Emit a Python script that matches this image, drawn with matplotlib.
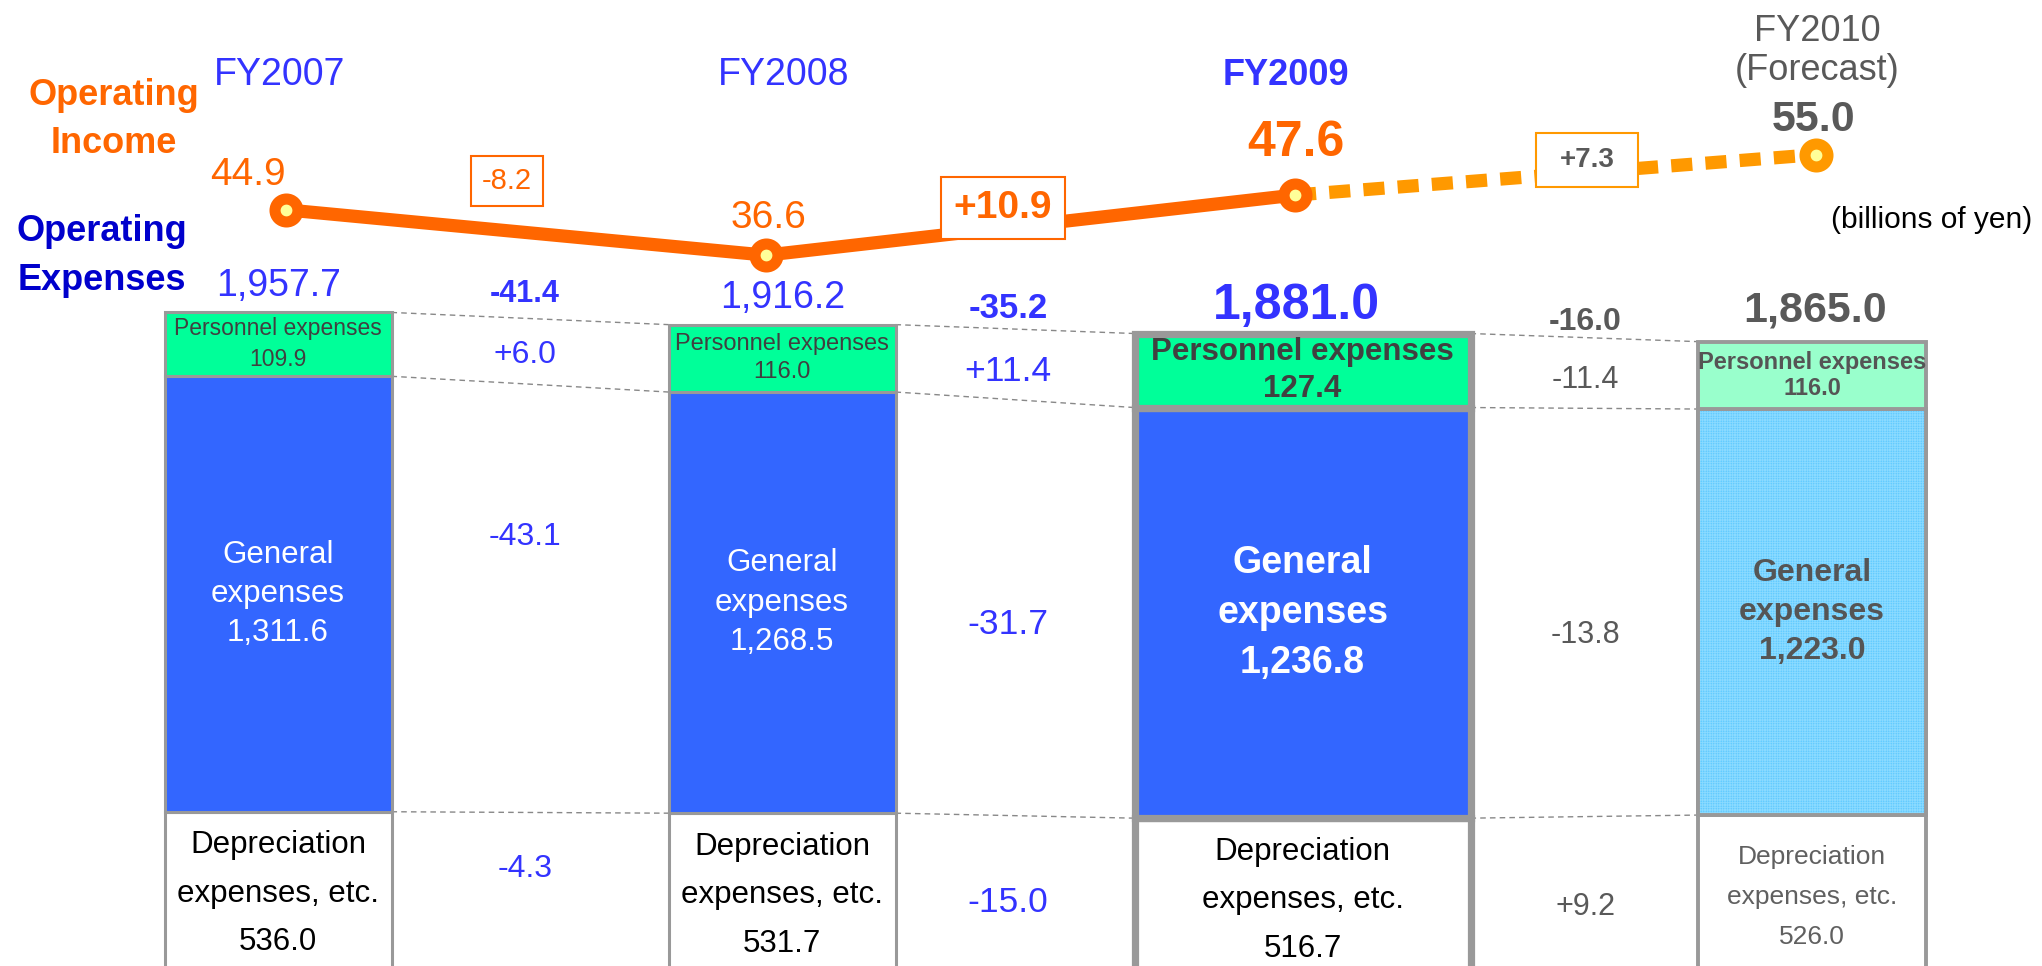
import matplotlib.pyplot as plt

plt.rcParams['font.family'] = ['Liberation Sans', 'DejaVu Sans']
plt.rcParams['hatch.linewidth'] = 0.5

# ---- data (billions of yen) ----
periods = ['FY2007', 'FY2008', 'FY2009', 'FY2010\n(Forecast)']
op_income = [44.9, 36.6, 47.6, 55.0]
income_diff = ['-8.2', '+10.9', '+7.3']
op_expenses = [1957.7, 1916.2, 1881.0, 1865.0]
personnel = [109.9, 116.0, 127.4, 116.0]
general = [1311.6, 1268.5, 1236.8, 1223.0]
depreciation = [536.0, 531.7, 516.7, 526.0]
total_diff = ['-41.4', '-35.2', '-16.0']
personnel_diff = ['+6.0', '+11.4', '-11.4']
general_diff = ['-43.1', '-31.7', '-13.8']
depr_diff = ['-4.3', '-15.0', '+9.2']

ORANGE = '#FF6600'
LORANGE = '#FF9900'
BLUE = '#3333FF'
DBLUE = '#0000CC'
GRAY = '#595959'
EDGE = '#999999'

W, H = 2042, 966
fig = plt.figure(figsize=(W / 100, H / 100), dpi=100)
ax = fig.add_axes([0, 0, 1, 1])
ax.set_xlim(0, W)
S = 0.332      # px per billion yen for the expense bars
Y0 = 989.7     # pixel row of the zero line (below the picture)
ax.set_ylim((Y0 - H) / S, Y0 / S)
ax.axis('off')
K_PERS = 1.75  # personnel segments drawn enlarged so the labels fit

ax2 = ax.twinx()
IS = 5.466     # px per billion yen for operating income
ax2.set_ylim(46.0 - (H - 203.8) / IS, 46.0 + 203.8 / IS)
ax2.axis('off')


def label(x, y, s, **kw):
    fig.text(x / W, 1 - y / H, s, **kw)


# ---- bars ----
bar_x = [278, 782, 1302.5, 1812]
bar_w = [227, 227, 336, 228]
edge_lw = [2.2, 2.2, 5.2, 2.8]
pers_col = ['#00FF99', '#00FF99', '#00FF99', '#99FFCC']
gen_col = ['#3366FF', '#3366FF', '#3366FF', '#4FC3FF']

levels = []
for i in range(4):
    d = depreciation[i]
    g = general[i]
    p = personnel[i] * K_PERS
    kw = dict(width=bar_w[i], edgecolor=EDGE, linewidth=edge_lw[i], zorder=2)
    ax.bar(bar_x[i], d, bottom=0, color='white', **kw)
    ax.bar(bar_x[i], g, bottom=d, color=gen_col[i], **kw)
    if i == 3:
        # dotted forecast texture
        ax.bar(bar_x[i], g, bottom=d, width=bar_w[i], color='none',
               edgecolor='#8ADAFF', linewidth=0, hatch='+' * 10, zorder=2)
        ax.bar(bar_x[i], g, bottom=d, width=bar_w[i], color='none',
               edgecolor=EDGE, linewidth=edge_lw[i], zorder=2)
    ax.bar(bar_x[i], p, bottom=d + g, color=pers_col[i], **kw)
    levels.append((d, d + g, d + g + p))

# dashed connectors between bars
for i in range(3):
    x1 = bar_x[i] + bar_w[i] / 2
    x2 = bar_x[i + 1] - bar_w[i + 1] / 2
    for j in range(3):
        ax.plot([x1, x2], [levels[i][j], levels[i + 1][j]], color='#888888',
                lw=1.0, dashes=(4, 3), zorder=1)

# labels inside bars
pers_style = [dict(fontsize=16.5, fontweight='normal', color='#404040', linespacing=1.45),
              dict(fontsize=17, fontweight='normal', color='#404040', linespacing=1.36),
              dict(fontsize=22.5, fontweight='bold', color='#404040', linespacing=1.27),
              dict(fontsize=17, fontweight='bold', color='#555555', linespacing=1.19)]
gen_style = [dict(fontsize=22.5, fontweight='normal', color='white', linespacing=1.4),
             dict(fontsize=22.5, fontweight='normal', color='white', linespacing=1.4),
             dict(fontsize=27, fontweight='bold', color='white', linespacing=1.49),
             dict(fontsize=23, fontweight='bold', color='#555555', linespacing=1.41)]
dep_style = [dict(fontsize=22.5, color='black', linespacing=1.81),
             dict(fontsize=22.5, color='black', linespacing=1.81),
             dict(fontsize=22.5, color='black', linespacing=1.81),
             dict(fontsize=19, color='#606060', linespacing=1.82)]

for i in range(4):
    d, dg, top = levels[i]
    ax.text(bar_x[i], (dg + top) / 2, f'Personnel expenses\n{personnel[i]:.1f}',
            ha='center', va='center', zorder=4, **pers_style[i])
    ax.text(bar_x[i], (d + dg) / 2, f'General\nexpenses\n{general[i]:,.1f}',
            ha='center', va='center', zorder=4, **gen_style[i])
    ax.annotate(f'Depreciation\nexpenses, etc.\n{depreciation[i]:.1f}',
                xy=(bar_x[i], d), xytext=(0, -82), textcoords='offset pixels',
                ha='center', va='center', zorder=4, **dep_style[i])

# operating expense totals above bars
tot_off = [(1, 16), (1, 17), (-6, 15), (3, 20)]
tot_style = [dict(fontsize=27, fontweight='normal', color=BLUE),
             dict(fontsize=27, fontweight='normal', color=BLUE),
             dict(fontsize=36, fontweight='bold', color=BLUE),
             dict(fontsize=31, fontweight='bold', color=GRAY)]
for i in range(4):
    ax.annotate(f'{op_expenses[i]:,.1f}', xy=(bar_x[i], levels[i][2]),
                xytext=tot_off[i], textcoords='offset pixels',
                ha='center', va='baseline', **tot_style[i])

# ---- operating income line ----
mark_x = [286, 766, 1295, 1816]
ax2.plot(mark_x[:3], op_income[:3], color=ORANGE, lw=9.5,
         solid_capstyle='butt', zorder=3)
ax2.plot(mark_x[2:], op_income[2:], color=LORANGE, lw=9.5,
         dashes=(1.6, 1.0), dash_capstyle='butt', zorder=2)
ax2.plot(mark_x[:3], op_income[:3], 'o', ms=16.5, mfc='#FFFF99', mec=ORANGE,
         mew=8, zorder=4)
ax2.plot(mark_x[3:], op_income[3:], 'o', ms=16.5, mfc='#FFFF99', mec=LORANGE,
         mew=8, zorder=4)

inc_off = [(-38, 25), (2, 27), (1, 39), (-2, 24)]
inc_style = [dict(fontsize=28, fontweight='normal', color=ORANGE),
             dict(fontsize=28, fontweight='normal', color=ORANGE),
             dict(fontsize=36, fontweight='bold', color=ORANGE),
             dict(fontsize=31, fontweight='bold', color=GRAY)]
for i in range(4):
    ax2.annotate(f'{op_income[i]:.1f}', xy=(mark_x[i], op_income[i]),
                 xytext=inc_off[i], textcoords='offset pixels',
                 ha='center', va='baseline', **inc_style[i])

# boxed income changes
box_pos = [(507, 181), (1003, 208), (1587, 160)]
box_style = [dict(fontsize=21, fontweight='normal', color=ORANGE,
                  bbox=dict(boxstyle='square,pad=0.38', fc='white', ec=ORANGE, lw=1.5)),
             dict(fontsize=28, fontweight='bold', color=ORANGE,
                  bbox=dict(boxstyle='square,pad=0.33', fc='white', ec=ORANGE, lw=1.5)),
             dict(fontsize=20, fontweight='bold', color=GRAY,
                  bbox=dict(boxstyle='square,pad=0.86', fc='white', ec=LORANGE, lw=1.5,
                            mutation_aspect=0.6))]
for i in range(3):
    label(box_pos[i][0], box_pos[i][1], income_diff[i], ha='center', va='center',
          **box_style[i])

# ---- headers (va='baseline' pins the last line) ----
label(114, 153, 'Operating\nIncome', ha='center', va='baseline', fontsize=26,
      fontweight='bold', color=ORANGE, linespacing=1.49)
label(102, 290, 'Operating\nExpenses', ha='center', va='baseline', fontsize=26,
      fontweight='bold', color=DBLUE, linespacing=1.53)

year_pos = [(280, 85), (784, 85), (1286, 85), (1817, 80)]
year_style = [dict(fontsize=27, color=BLUE), dict(fontsize=27, color=BLUE),
              dict(fontsize=26, fontweight='bold', color=BLUE),
              dict(fontsize=26, color=GRAY, linespacing=1.14)]
for i in range(4):
    label(year_pos[i][0], year_pos[i][1], periods[i], ha='center', va='baseline',
          **year_style[i])

label(1932, 228, '(billions of yen)', ha='center', va='baseline', fontsize=21.5,
      color='black')

# ---- change labels between bars ----
diff_x = [525, 1008, 1585]
diff_col = [BLUE, BLUE, GRAY]
tot_y = [302, 318, 330]
tot_fs = [22, 25, 23]
pers_y = [363, 381, 388]
gen_y = [537, 624, 635]
dep_y = [869, 902, 907]
norm_fs = [23, 25.5, 22]
for i in range(3):
    label(diff_x[i], tot_y[i], total_diff[i], ha='center', va='baseline',
          fontsize=tot_fs[i], fontweight='bold', color=diff_col[i])
    label(diff_x[i], pers_y[i], personnel_diff[i], ha='center', va='baseline',
          fontsize=norm_fs[i], color=diff_col[i])
    label(diff_x[i], gen_y[i], general_diff[i], ha='center', va='center',
          fontsize=norm_fs[i], color=diff_col[i])
    label(diff_x[i], dep_y[i], depr_diff[i], ha='center', va='center',
          fontsize=norm_fs[i], color=diff_col[i])

fig.savefig('out.png', dpi=100)
